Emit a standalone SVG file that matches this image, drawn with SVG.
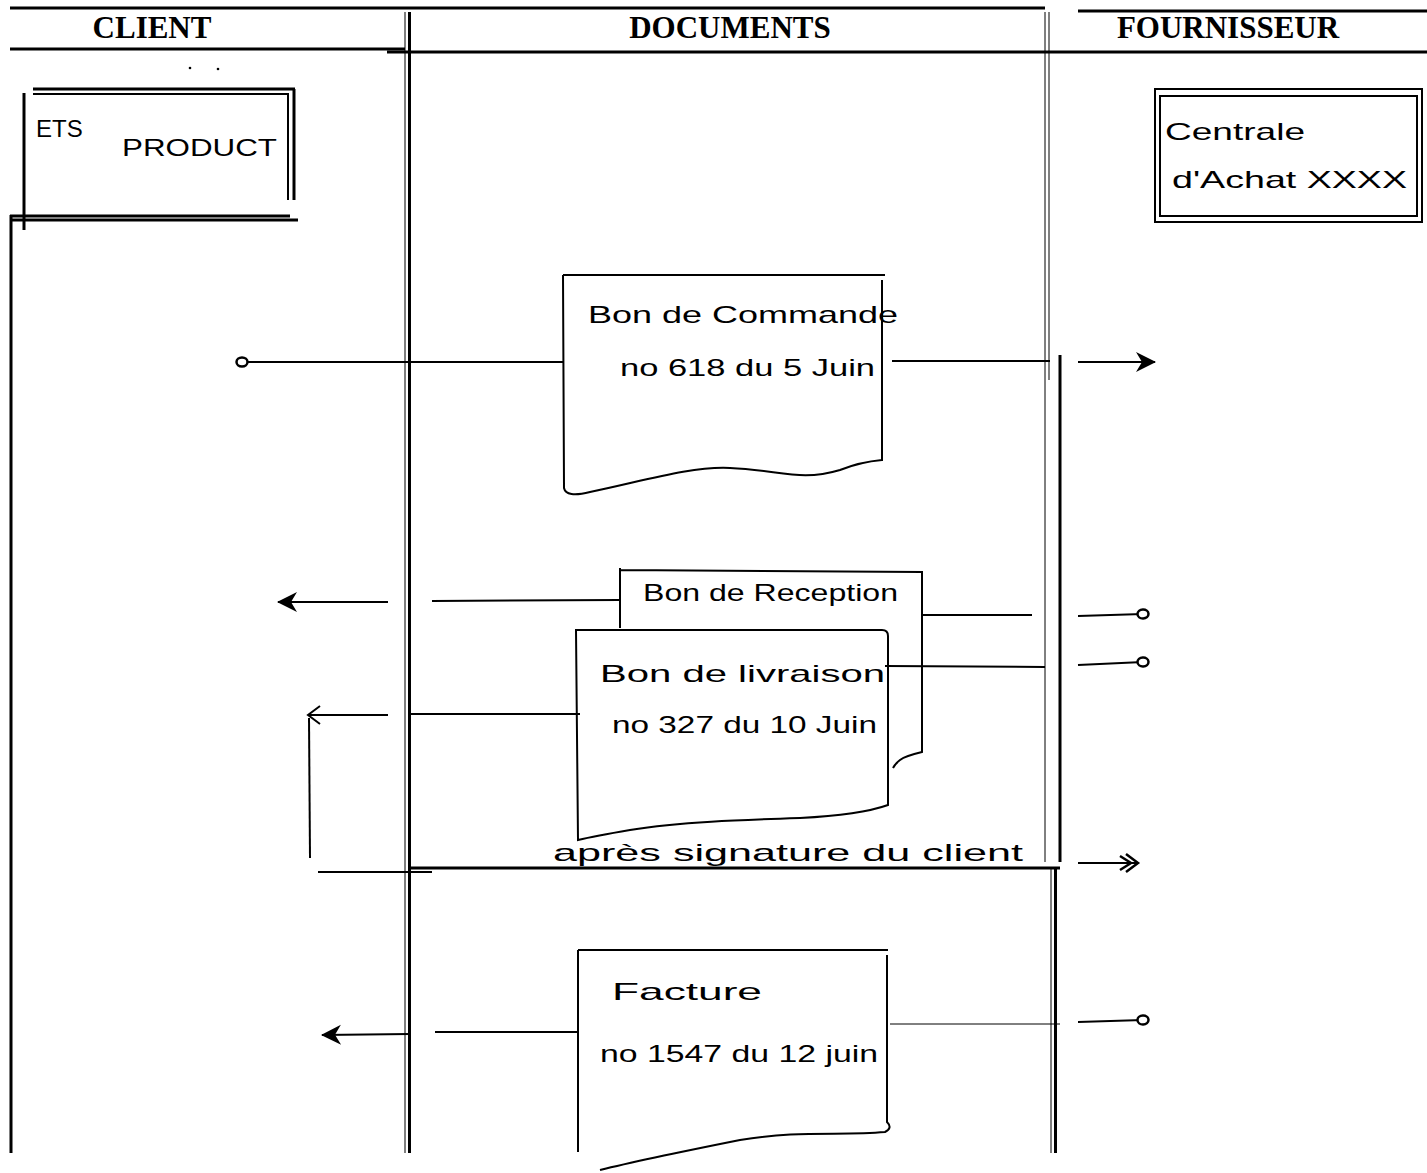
<svg xmlns="http://www.w3.org/2000/svg" width="1427" height="1173" viewBox="0 0 1427 1173">
<defs>
<style>
.hd{font-family:"Liberation Serif",serif;font-weight:bold;font-size:31px;fill:#000}
.hw{font-family:"Liberation Sans",sans-serif;font-size:24px;fill:#000}
.k{stroke:#000;fill:none;stroke-width:2}
.t{stroke:#000;fill:none;stroke-width:1}
.b{stroke:#000;fill:none;stroke-width:3}
.doc{stroke:#000;fill:#fff;stroke-width:2}
</style>
<marker id="fr" markerWidth="26" markerHeight="26" refX="22" refY="13" orient="auto" markerUnits="userSpaceOnUse" overflow="visible"><path d="M3,3 L23,13 L3,23 L9,13 Z" fill="#000"/></marker>
<marker id="oa" markerWidth="20" markerHeight="24" refX="16" refY="12" orient="auto" markerUnits="userSpaceOnUse"><path d="M4,3 L16,12 L4,21" fill="none" stroke="#000" stroke-width="2"/></marker>
<marker id="or" markerWidth="24" markerHeight="24" refX="20" refY="12" orient="auto" markerUnits="userSpaceOnUse"><path d="M8,3 L20,12 L8,21 M2,5 L13,12 L2,19" fill="none" stroke="#000" stroke-width="2.5"/></marker>
<marker id="ci" markerWidth="16" markerHeight="14" refX="8" refY="7" orient="auto" markerUnits="userSpaceOnUse"><ellipse cx="8" cy="7" rx="5.5" ry="4.5" fill="#fff" stroke="#000" stroke-width="2.5"/></marker>
</defs>
<rect width="1427" height="1173" fill="#fff"/>

<g id="swimlanes">
<line class="b" x1="10" y1="8" x2="1045" y2="8"/>
<line class="b" x1="1078" y1="11" x2="1427" y2="11"/>
<line class="b" x1="10" y1="49" x2="405" y2="49"/>
<line class="b" x1="387" y1="52" x2="1427" y2="52"/>
<line class="t" x1="405" y1="12" x2="405" y2="1153"/>
<line class="b" x1="409.5" y1="12" x2="409.5" y2="1153"/>
<line class="t" x1="1045" y1="12" x2="1045" y2="862"/>
<line class="t" x1="1049" y1="12" x2="1049" y2="380"/>
<line class="b" x1="1060" y1="355" x2="1060" y2="862"/>
<line class="t" x1="1051" y1="868" x2="1051" y2="1153"/>
<line class="b" x1="1055.5" y1="868" x2="1055.5" y2="1153"/>
<line class="b" x1="11" y1="215" x2="11" y2="1153"/>
<line class="b" x1="408" y1="868" x2="1060" y2="868"/>
<text class="hd" x="152" y="38" text-anchor="middle">CLIENT</text>
<text class="hd" x="730" y="38" text-anchor="middle">DOCUMENTS</text>
<text class="hd" x="1228" y="38" text-anchor="middle">FOURNISSEUR</text>
<circle cx="190" cy="68" r="1.3" fill="#000"/>
<circle cx="218" cy="69" r="1.3" fill="#000"/>
</g>

<g id="client">
<line class="b" x1="33" y1="89" x2="295" y2="89"/>
<line class="k" x1="33" y1="94" x2="288" y2="94"/>
<line class="b" x1="24" y1="93" x2="24" y2="230"/>
<line class="k" x1="288" y1="93" x2="288" y2="200"/>
<line class="b" x1="294" y1="89" x2="294" y2="200"/>
<line class="b" x1="10" y1="216" x2="290" y2="216"/>
<line class="b" x1="10" y1="220" x2="298" y2="220"/>
<text class="hw" x="36" y="137" font-size="20">ETS</text>
<text class="hw" x="122" y="156" font-size="28" textLength="155" lengthAdjust="spacingAndGlyphs">PRODUCT</text>
</g>

<g id="fournisseur">
<rect x="1155" y="89" width="267" height="133" class="k"/>
<rect x="1160" y="96" width="257" height="120" class="k"/>
<text class="hw" x="1165" y="140" font-size="30" textLength="140" lengthAdjust="spacingAndGlyphs">Centrale</text>
<text class="hw" x="1172" y="188" font-size="26" textLength="235" lengthAdjust="spacingAndGlyphs">d'Achat XXXX</text>
</g>

<g id="bon-commande">
<path class="doc" d="M563,275 L885,275 M882,280 L882,460 Q860,462 840,470 C800,482 780,470 730,468 C690,466 640,482 590,492 Q566,498 564,488 L563,275"/>
<text class="hw" x="588" y="323" font-size="28" textLength="310" lengthAdjust="spacingAndGlyphs">Bon de Commande</text>
<text class="hw" x="620" y="376" font-size="25" textLength="255" lengthAdjust="spacingAndGlyphs">no 618 du 5 Juin</text>
</g>

<g id="bon-reception">
<path class="doc" d="M620,570 L922,572 L922,752 Q905,756 900,760 Q895,764 893,768 M620,568 L620,628"/>
<text class="hw" x="643" y="601" font-size="20" textLength="255" lengthAdjust="spacingAndGlyphs">Bon de Reception</text>
</g>

<g id="bon-livraison">
<path class="doc" d="M576,630 L882,630 Q888,630 888,636 L888,805 Q860,815 800,818 C740,820 680,822 630,830 Q595,836 578,840 L576,630 Z"/>
<text class="hw" x="600" y="682" font-size="24" textLength="285" lengthAdjust="spacingAndGlyphs">Bon de livraison</text>
<text class="hw" x="612" y="733" font-size="22" textLength="265" lengthAdjust="spacingAndGlyphs">no 327 du 10 Juin</text>
</g>

<g id="facture">
<path class="doc" d="M578,950 L888,950 M887,955 L887,1122 Q893,1128 885,1132 C840,1136 800,1130 740,1140 C690,1150 640,1160 600,1170 M578,950 L578,1152"/>
<text class="hw" x="612" y="1000" font-size="26" textLength="150" lengthAdjust="spacingAndGlyphs">Facture</text>
<text class="hw" x="600" y="1062" font-size="22" textLength="278" lengthAdjust="spacingAndGlyphs">no 1547 du 12 juin</text>
</g>

<g id="signature-note">
<text class="hw" x="553" y="861" font-size="19" textLength="470" lengthAdjust="spacingAndGlyphs">après signature du client</text>
</g>

<g id="connectors">
<line class="k" x1="242" y1="362" x2="563" y2="362" marker-start="url(#ci)"/>
<line class="k" x1="892" y1="361" x2="1050" y2="361"/>
<line class="k" x1="1078" y1="362" x2="1155" y2="362" marker-end="url(#fr)"/>

<line class="k" x1="432" y1="601" x2="620" y2="600"/>
<line class="k" x1="388" y1="602" x2="278" y2="602" marker-end="url(#fr)"/>
<line class="k" x1="922" y1="615" x2="1032" y2="615"/>
<line class="k" x1="1078" y1="616" x2="1143" y2="614" marker-end="url(#ci)"/>

<line class="k" x1="885" y1="666" x2="1045" y2="667"/>
<line class="k" x1="1078" y1="665" x2="1143" y2="662" marker-end="url(#ci)"/>

<line class="k" x1="408" y1="714" x2="580" y2="714"/>
<line class="k" x1="388" y1="715" x2="308" y2="715" marker-end="url(#oa)"/>
<line class="k" x1="309" y1="718" x2="310" y2="858"/>
<line class="k" x1="318" y1="872" x2="432" y2="872"/>
<line class="k" x1="1078" y1="863" x2="1138" y2="863" marker-end="url(#or)"/>

<line class="k" x1="435" y1="1032" x2="578" y2="1032"/>
<line class="k" x1="410" y1="1034" x2="322" y2="1035" marker-end="url(#fr)"/>
<line class="k" x1="410" y1="1024" x2="410" y2="1036"/>
<line class="t" x1="890" y1="1024" x2="1060" y2="1024"/>
<line class="k" x1="1078" y1="1022" x2="1143" y2="1020" marker-end="url(#ci)"/>
</g>
</svg>
